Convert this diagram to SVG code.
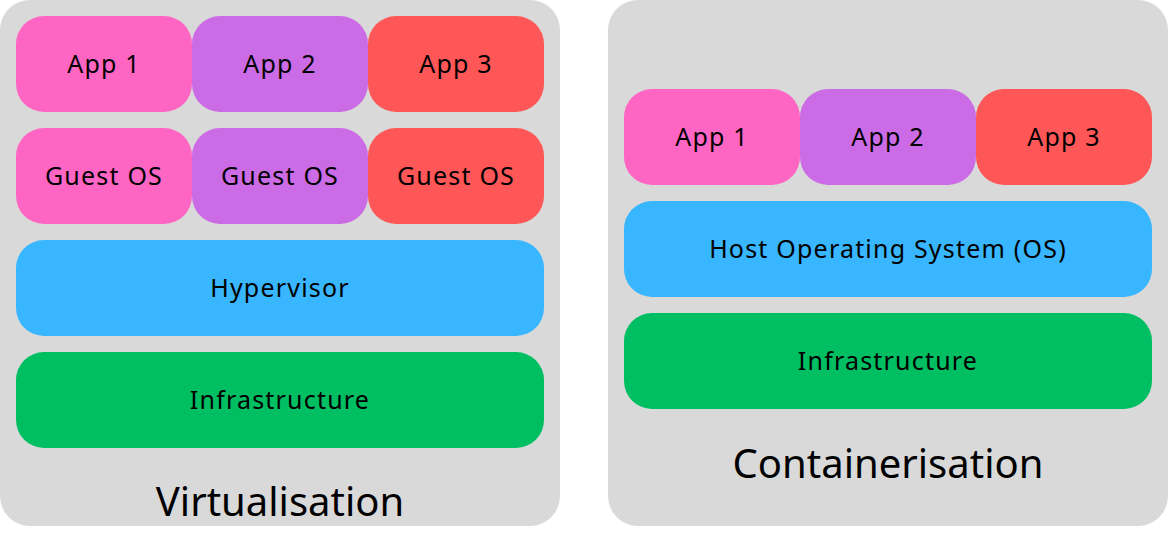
<svg xmlns="http://www.w3.org/2000/svg" width="1168" height="536" viewBox="0 0 1168 536">
<style>
.panel{fill:#D9D9D9}
.pink{fill:#FF66C4}.purple{fill:#CB6CE6}.red{fill:#FF5757}.blue{fill:#38B6FF}.green{fill:#00BF63}
text{font-family:"Noto Sans","Open Sans",sans-serif;fill:#000;text-anchor:middle}
.lbl{font-size:25px;letter-spacing:1.2px}
.ttl{font-size:40px}
</style>
<rect width="1168" height="536" fill="#FFFFFF"/>
<g id="virtualisation">
<rect class="panel" x="0" y="0" width="560" height="526" rx="30"/>
<text class="ttl" x="280" y="516">Virtualisation</text>
</g>
<g id="containerisation">
<rect class="panel" x="608" y="0" width="560" height="526" rx="30"/>
<text class="ttl" x="888" y="478">Containerisation</text>
</g>
<g id="v-app1"><rect class="pink" x="16" y="16" width="176" height="96" rx="28"/><text class="lbl" x="104" y="73">App 1</text></g>
<g id="v-app2"><rect class="purple" x="192" y="16" width="176" height="96" rx="28"/><text class="lbl" x="280" y="73">App 2</text></g>
<g id="v-app3"><rect class="red" x="368" y="16" width="176" height="96" rx="28"/><text class="lbl" x="456" y="73">App 3</text></g>
<g id="v-os1"><rect class="pink" x="16" y="128" width="176" height="96" rx="28"/><text class="lbl" x="104" y="185">Guest OS</text></g>
<g id="v-os2"><rect class="purple" x="192" y="128" width="176" height="96" rx="28"/><text class="lbl" x="280" y="185">Guest OS</text></g>
<g id="v-os3"><rect class="red" x="368" y="128" width="176" height="96" rx="28"/><text class="lbl" x="456" y="185">Guest OS</text></g>
<g id="v-hyp"><rect class="blue" x="16" y="240" width="528" height="96" rx="28"/><text class="lbl" x="280" y="297">Hypervisor</text></g>
<g id="v-infra"><rect class="green" x="16" y="352" width="528" height="96" rx="28"/><text class="lbl" x="280" y="409">Infrastructure</text></g>
<g id="c-app1"><rect class="pink" x="624" y="89" width="176" height="96" rx="28"/><text class="lbl" x="712" y="146">App 1</text></g>
<g id="c-app2"><rect class="purple" x="800" y="89" width="176" height="96" rx="28"/><text class="lbl" x="888" y="146">App 2</text></g>
<g id="c-app3"><rect class="red" x="976" y="89" width="176" height="96" rx="28"/><text class="lbl" x="1064" y="146">App 3</text></g>
<g id="c-host"><rect class="blue" x="624" y="201" width="528" height="96" rx="28"/><text class="lbl" x="888" y="258">Host Operating System (OS)</text></g>
<g id="c-infra"><rect class="green" x="624" y="313" width="528" height="96" rx="28"/><text class="lbl" x="888" y="370">Infrastructure</text></g>
<g id="connectors"/>
</svg>
